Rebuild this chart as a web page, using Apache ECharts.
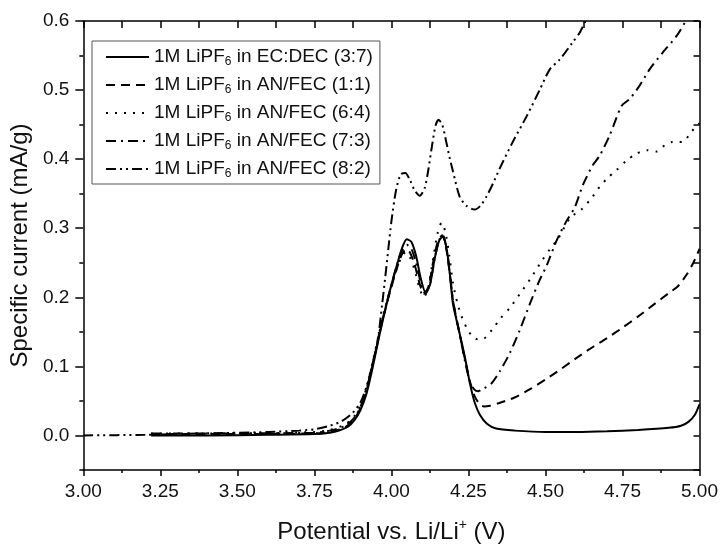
<!DOCTYPE html>
<html><head><meta charset="utf-8">
<script src="https://cdn.jsdelivr.net/npm/echarts@6/dist/echarts.min.js"></script>
<style>html,body{margin:0;padding:0;background:#fff}#c{width:721px;height:551px}</style>
</head><body><div id="c"></div>
<script>
const FONT = '"Liberation Sans", Arial, sans-serif';

// Series names
const seriesNames = [
  '1M LiPF6 in EC:DEC (3:7)',
  '1M LiPF6 in AN/FEC (1:1)',
  '1M LiPF6 in AN/FEC (6:4)',
  '1M LiPF6 in AN/FEC (7:3)',
  '1M LiPF6 in AN/FEC (8:2)'
];

// Axis ticks
const yMajorTicks = [0.0, 0.1, 0.2, 0.3, 0.4, 0.5, 0.6];
const yMinorTicks = [-0.05, 0.05, 0.15, 0.25, 0.35, 0.45, 0.55];

// Data: [potential (V), specific current (mA/g)]
const ecdec37 = [[3.22,0.0],[3.4,0.0],[3.6,0.001],[3.75,0.002],[3.8,0.004],[3.83,0.007],[3.86,0.013],[3.88,0.022],[3.9,0.037],[3.92,0.062],[3.94,0.1],[3.96,0.143],[3.98,0.182],[4.0,0.218],[4.02,0.25],[4.035,0.272],[4.05,0.284],[4.065,0.28],[4.08,0.26],[4.095,0.228],[4.11,0.208],[4.125,0.218],[4.14,0.255],[4.155,0.282],[4.167,0.288],[4.18,0.268],[4.19,0.232],[4.2,0.19],[4.215,0.16],[4.23,0.131],[4.24,0.11],[4.255,0.075],[4.27,0.048],[4.287,0.03],[4.31,0.017],[4.34,0.01],[4.4,0.007],[4.5,0.005],[4.6,0.005],[4.7,0.006],[4.8,0.008],[4.9,0.011],[4.94,0.014],[4.965,0.02],[4.985,0.03],[5.0,0.045]];

const anfec11 = [[3.22,0.002],[3.5,0.002],[3.75,0.003],[3.8,0.005],[3.85,0.012],[3.88,0.024],[3.9,0.04],[3.92,0.066],[3.94,0.105],[3.96,0.145],[3.98,0.182],[4.0,0.215],[4.02,0.245],[4.035,0.263],[4.048,0.27],[4.06,0.265],[4.075,0.248],[4.09,0.222],[4.105,0.205],[4.12,0.215],[4.135,0.25],[4.15,0.28],[4.165,0.29],[4.178,0.27],[4.19,0.232],[4.2,0.195],[4.22,0.15],[4.24,0.108],[4.255,0.078],[4.27,0.057],[4.285,0.046],[4.3,0.042],[4.32,0.043],[4.35,0.047],[4.4,0.055],[4.45,0.067],[4.5,0.081],[4.55,0.096],[4.6,0.112],[4.65,0.127],[4.7,0.141],[4.75,0.156],[4.8,0.172],[4.85,0.189],[4.9,0.206],[4.93,0.216],[4.96,0.234],[4.98,0.25],[5.0,0.27]];

const anfec64 = [[3.22,0.003],[3.5,0.003],[3.75,0.005],[3.8,0.008],[3.85,0.016],[3.88,0.028],[3.9,0.044],[3.92,0.07],[3.94,0.108],[3.96,0.148],[3.98,0.185],[4.0,0.217],[4.02,0.245],[4.035,0.26],[4.045,0.265],[4.06,0.258],[4.075,0.24],[4.09,0.215],[4.105,0.2],[4.12,0.215],[4.135,0.255],[4.15,0.293],[4.163,0.308],[4.175,0.295],[4.188,0.26],[4.2,0.22],[4.215,0.19],[4.23,0.17],[4.245,0.155],[4.26,0.145],[4.28,0.139],[4.3,0.14],[4.33,0.155],[4.355,0.17],[4.385,0.185],[4.417,0.205],[4.45,0.226],[4.49,0.254],[4.515,0.27],[4.54,0.284],[4.58,0.315],[4.617,0.327],[4.65,0.344],[4.676,0.36],[4.7,0.372],[4.73,0.384],[4.763,0.398],[4.796,0.408],[4.828,0.413],[4.86,0.411],[4.887,0.42],[4.913,0.425],[4.945,0.425],[4.974,0.44],[5.0,0.452]];

const anfec73 = [[3.22,0.003],[3.5,0.003],[3.75,0.004],[3.8,0.007],[3.85,0.014],[3.88,0.026],[3.9,0.042],[3.92,0.068],[3.94,0.106],[3.96,0.147],[3.98,0.184],[4.0,0.218],[4.02,0.25],[4.035,0.268],[4.05,0.276],[4.065,0.27],[4.08,0.25],[4.095,0.222],[4.11,0.205],[4.125,0.218],[4.14,0.255],[4.155,0.283],[4.167,0.29],[4.18,0.268],[4.19,0.235],[4.2,0.195],[4.22,0.15],[4.24,0.105],[4.255,0.078],[4.268,0.067],[4.28,0.064],[4.3,0.068],[4.326,0.076],[4.352,0.093],[4.384,0.119],[4.417,0.153],[4.449,0.19],[4.481,0.225],[4.504,0.246],[4.536,0.282],[4.569,0.311],[4.595,0.33],[4.621,0.362],[4.653,0.391],[4.676,0.405],[4.708,0.434],[4.747,0.477],[4.773,0.487],[4.805,0.506],[4.838,0.53],[4.88,0.554],[4.925,0.578],[4.958,0.602],[4.99,0.63]];

const anfec82 = [[3.0,0.0],[3.2,0.001],[3.4,0.003],[3.6,0.005],[3.7,0.007],[3.75,0.009],[3.8,0.014],[3.84,0.021],[3.875,0.033],[3.9,0.048],[3.92,0.072],[3.94,0.105],[3.955,0.135],[3.97,0.19],[3.98,0.229],[3.99,0.27],[4.0,0.31],[4.015,0.355],[4.03,0.378],[4.045,0.38],[4.06,0.37],[4.075,0.355],[4.092,0.347],[4.108,0.358],[4.12,0.385],[4.132,0.42],[4.143,0.448],[4.153,0.457],[4.165,0.45],[4.178,0.425],[4.19,0.4],[4.2,0.382],[4.222,0.345],[4.245,0.332],[4.27,0.327],[4.29,0.333],[4.31,0.347],[4.33,0.365],[4.352,0.387],[4.394,0.425],[4.44,0.463],[4.481,0.5],[4.514,0.53],[4.546,0.544],[4.588,0.569],[4.611,0.583],[4.63,0.6],[4.65,0.62]];

const seriesData = [ecdec37, anfec11, anfec64, anfec73, anfec82];
const dashTypes = ['solid', [9, 6], [2, 7], [10, 5, 2, 5], [10, 4, 2, 4, 2, 4]];

const chart = echarts.init(document.getElementById('c'), null, {renderer: 'canvas'});
const axisColor = '#000';
const labelStyle = {fontFamily: FONT, fontSize: 19, color: '#111'};

chart.setOption({
  animation: false,
  backgroundColor: '#fff',
  grid: {left: 83, right: 21, top: 21, bottom: 77, containLabel: false},
  legend: {
    orient: 'vertical',
    left: 92, top: 41,
    padding: [5, 7, 4, 13],
    itemGap: 6,
    itemWidth: 43,
    itemHeight: 14,
    borderColor: '#555', borderWidth: 1,
    backgroundColor: '#fff',
    selectedMode: false,
    data: seriesNames,
    itemStyle: {opacity: 0, borderWidth: 0},
    formatter: function (n) { return n.replace('LiPF6', 'LiPF{s|6}'); },
    textStyle: {fontFamily: FONT, fontSize: 19, color: '#111', lineHeight: 22,
      rich: {s: {fontFamily: FONT, fontSize: 12, color: '#111', verticalAlign: 'bottom', lineHeight: 12}}}
  },
  xAxis: [{
    type: 'value', position: 'bottom', min: 3, max: 5, interval: 0.25,
    axisLine: {show: true, onZero: false, lineStyle: {color: axisColor, width: 1.5}},
    axisTick: {show: true, inside: false, length: 6, lineStyle: {color: axisColor, width: 1.5}},
    minorTick: {show: true, splitNumber: 2, length: 3, lineStyle: {color: axisColor, width: 1.5}},
    splitLine: {show: false},
    axisLabel: Object.assign({margin: 12, formatter: function (v) { return v.toFixed(2); }}, labelStyle),
    name: 'Potential vs. Li/Li{sup|+} (V)',
    nameLocation: 'middle', nameGap: 48,
    nameTextStyle: {fontFamily: FONT, fontSize: 24, color: '#111', lineHeight: 28,
      rich: {sup: {fontFamily: FONT, fontSize: 14, color: '#111', verticalAlign: 'top', lineHeight: 14}}}
  }, {
    type: 'value', position: 'top', min: 3, max: 5, interval: 0.125,
    axisLine: {show: true, onZero: false, lineStyle: {color: axisColor, width: 1.5}},
    axisTick: {show: true, inside: true, length: 7, lineStyle: {color: axisColor, width: 1.5}},
    axisLabel: {show: false}, splitLine: {show: false}
  }],
  yAxis: [{
    type: 'value', position: 'left', min: -0.05, max: 0.6,
    axisLine: {show: true, onZero: false, lineStyle: {color: axisColor, width: 1.5}},
    axisTick: {show: true, inside: false, length: 8, customValues: yMajorTicks, lineStyle: {color: axisColor, width: 1.5}},
    splitLine: {show: false},
    axisLabel: Object.assign({margin: 14, customValues: yMajorTicks, formatter: function (v) { return v.toFixed(1); }}, labelStyle),
    name: 'Specific current (mA/g)',
    nameLocation: 'middle', nameGap: 50, nameRotate: 90,
    nameTextStyle: {fontFamily: FONT, fontSize: 24, color: '#111'}
  }, {
    type: 'value', position: 'left', min: -0.05, max: 0.6,
    axisLine: {show: false},
    axisTick: {show: true, inside: false, length: 4, customValues: yMinorTicks, lineStyle: {color: axisColor, width: 1.5}},
    axisLabel: {show: false, customValues: yMinorTicks}, splitLine: {show: false}
  }, {
    type: 'value', position: 'right', min: -0.05, max: 0.6, interval: 0.05,
    axisLine: {show: true, onZero: false, lineStyle: {color: axisColor, width: 1.5}},
    axisTick: {show: true, inside: true, length: 6, lineStyle: {color: axisColor, width: 1.5}},
    axisLabel: {show: false}, splitLine: {show: false}
  }],
  series: seriesData.map(function (d, i) {
    return {
      name: seriesNames[i], type: 'line', data: d,
      xAxisIndex: 0, yAxisIndex: 0,
      showSymbol: false, symbol: 'none', smooth: 0.25, clip: true,
      lineStyle: {color: '#000', width: 2, type: dashTypes[i]},
      itemStyle: {color: '#000'},
      emphasis: {disabled: true}
    };
  })
});
</script>
</body></html>
